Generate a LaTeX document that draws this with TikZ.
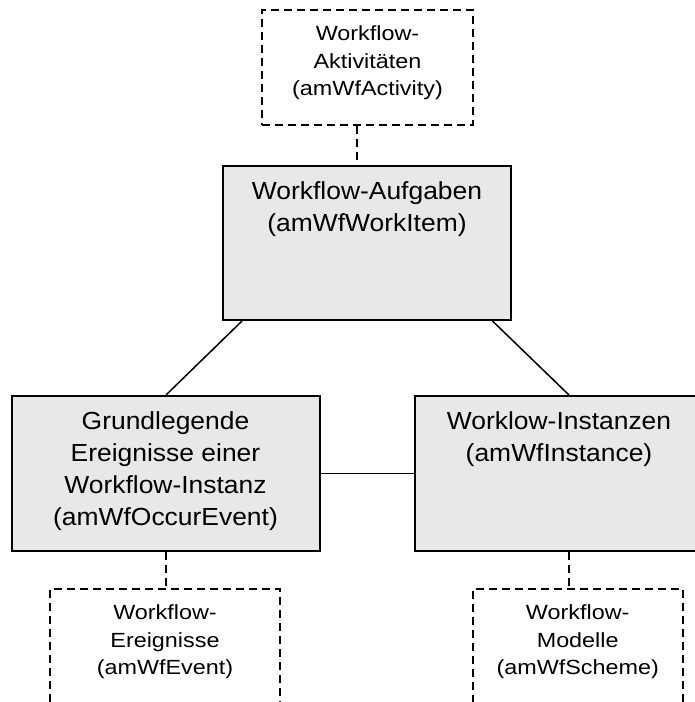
\documentclass[tikz,border=0pt]{standalone}
\usepackage{fontspec}
\setmainfont{Liberation Sans}
\newfontfamily\bigfnt[FakeStretch=1.07]{Liberation Sans}
\newfontfamily\smallfnt[FakeStretch=1.14]{Liberation Sans}
\usetikzlibrary{calc}
\definecolor{boxgray}{RGB}{232,232,232}
\tikzset{
  greybox/.style={draw=black, line width=2pt, fill=boxgray, rectangle, inner sep=0pt},
  dashbox/.style={draw=black, line width=1.9pt, dash pattern=on 8pt off 5pt, rectangle, inner sep=0pt},
  bigtext/.style={anchor=north, inner sep=0pt, align=center, font=\bigfnt\fontsize{24.7}{31.8}\selectfont, yshift=-16.5pt},
  smalltext/.style={anchor=north, inner sep=0pt, align=center, font=\smallfnt\fontsize{20.5}{27.5}\selectfont, yshift=-16.5pt},
  solidconn/.style={draw=black, line width=1.5pt},
  dashconn/.style={draw=black, line width=1.6pt, dash pattern=on 8pt off 5pt},
}
\begin{document}
\begin{tikzpicture}[x=1pt, y=-1pt]
\useasboundingbox (0,0) rectangle (694,702);
\fill[white] (0,0) rectangle (694,702);

% boxes
\node[dashbox, minimum width=211pt, minimum height=115pt] (topd) at (367.5,67.5) {};
\node[greybox, minimum width=288pt, minimum height=154pt] (topg) at (367,243) {};
\node[greybox, minimum width=308pt, minimum height=155pt] (leftg) at (165.5,473.5) {};
\node[greybox, minimum width=288pt, minimum height=155pt] (rightg) at (559,473.5) {};
\node[dashbox, minimum width=230pt, minimum height=150pt] (botl) at (165,664) {};
\node[dashbox, minimum width=210pt, minimum height=150pt] (botr) at (577.7,664) {};

% texts
\node[smalltext] (topdt) at (topd.north) {Workflow-\\Aktivitäten\\(amWfActivity)};
\node[bigtext] (topgt) at (topg.north) {Workflow-Aufgaben\\(amWfWorkItem)};
\node[bigtext] (leftgt) at (leftg.north) {Grundlegende\\Ereignisse einer\\Workflow-Instanz\\(amWfOccurEvent)};
\node[bigtext] (rightgt) at (rightg.north) {Worklow-Instanzen\\(amWfInstance)};
\node[smalltext] (botlt) at (botl.north) {Workflow-\\Ereignisse\\(amWfEvent)};
\node[smalltext] (botrt) at (botr.north) {Workflow-\\Modelle\\(amWfScheme)};

% connector x positions
\coordinate (cx1) at (357,0);
\coordinate (cx2) at (242,0);
\coordinate (cx3) at (166,0);
\coordinate (cx4) at (492.5,0);
\coordinate (cx5) at (569,0);

% connectors
\draw[dashconn] (topd.south -| cx1) -- (topg.north -| cx1);
\draw[solidconn] (topg.south -| cx2) -- (leftg.north -| cx3);
\draw[solidconn] (topg.south -| cx4) -- (rightg.north -| cx5);
\draw[solidconn] (leftg.east) -- (rightg.west);
\draw[dashconn] (leftg.south -| cx3) -- (botl.north -| cx3);
\draw[dashconn] (rightg.south -| cx5) -- (botr.north -| cx5);
\end{tikzpicture}
\end{document}
